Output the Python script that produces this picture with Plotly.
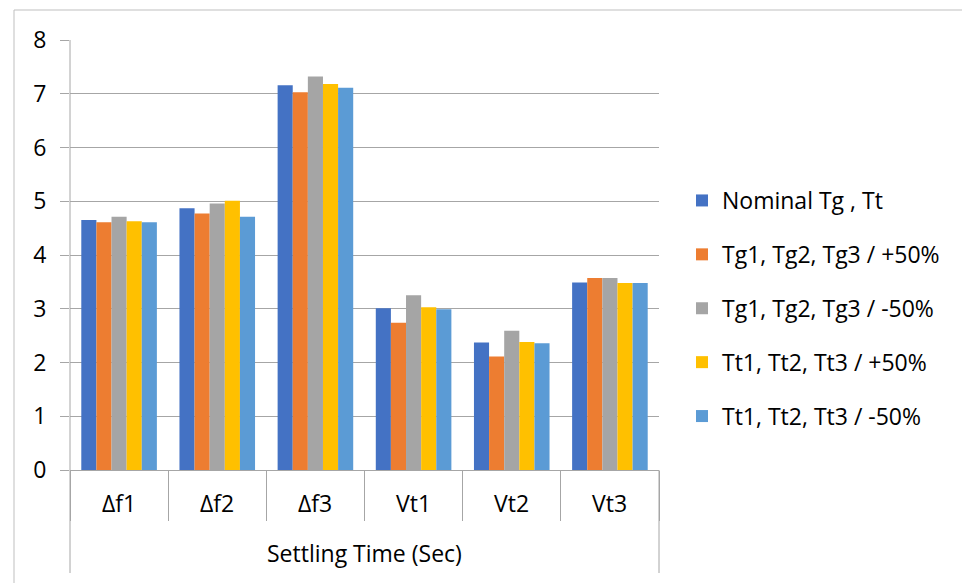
import plotly.graph_objects as go

categories = ["Δf1", "Δf2", "Δf3", "Vt1", "Vt2", "Vt3"]
series_names = ["Nominal Tg , Tt", "Tg1, Tg2, Tg3 / +50%", "Tg1, Tg2, Tg3 / -50%",
                "Tt1, Tt2, Tt3 / +50%", "Tt1, Tt2, Tt3 / -50%"]
nominal = [4.65, 4.87, 7.16, 3.01, 2.37, 3.49]
tg_plus50 = [4.61, 4.77, 7.03, 2.74, 2.11, 3.57]
tg_minus50 = [4.71, 4.96, 7.32, 3.25, 2.59, 3.57]
tt_plus50 = [4.63, 5.01, 7.18, 3.03, 2.38, 3.48]
tt_minus50 = [4.61, 4.71, 7.11, 2.99, 2.36, 3.48]
colors = ["#4472C4", "#ED7D31", "#A5A5A5", "#FFC000", "#5B9BD5"]
y_ticks = [0, 1, 2, 3, 4, 5, 6, 7, 8]
x_title = "Settling Time (Sec)"

# page body has an 8px offset; margins compensate
W, H = 970, 583
L, T = 62, 32
plot_right, plot_bottom = 651, 462
R, B = W - plot_right, H - plot_bottom
pw, ph = plot_right - L, plot_bottom - T

fig = go.Figure()
for i, (name, vals) in enumerate(zip(series_names,
                                     [nominal, tg_plus50, tg_minus50, tt_plus50, tt_minus50])):
    fig.add_trace(go.Bar(x=categories, y=vals, name=name, marker_color=colors[i],
                         marker_line_width=0, legendgroup=f"g{i}"))

font = "Open Sans, Liberation Sans, sans-serif"
fs = 23
line_col = "#A6A6A6"
fig.update_layout(
    width=W, height=H,
    margin=dict(l=L, r=R, t=T, b=B, autoexpand=False),
    paper_bgcolor="white", plot_bgcolor="white",
    barmode="group", bargap=0.23, bargroupgap=0,
    font=dict(family=font, size=fs, color="#000000"),
    legend=dict(x=(682 - 8 - L) / pw, y=1 - 139 / ph, xanchor="left", yanchor="top",
                font=dict(size=fs, family=font), traceorder="grouped",
                tracegroupgap=21, itemwidth=30, bgcolor="rgba(0,0,0,0)"),
    showlegend=True,
)
fig.update_yaxes(range=[0, 8], tickvals=y_ticks, showgrid=True, gridcolor=line_col,
                 gridwidth=1, zeroline=False, showline=False, ticks="outside",
                 ticklen=9, tickcolor=line_col, tickfont=dict(size=fs), ticklabelstandoff=9)
fig.update_xaxes(type="category", showline=True, linecolor=line_col, linewidth=1,
                 ticks="outside", tickson="boundaries", ticklen=50, tickcolor=line_col,
                 showticklabels=False)

annotations = [dict(x=c, y=-33 / ph, xref="x", yref="paper", text=c, showarrow=False,
                    xanchor="center", yanchor="middle", font=dict(size=fs))
               for c in categories]
annotations.append(dict(x=0.5, y=-83 / ph, xref="paper", yref="paper", text=x_title,
                        showarrow=False, xanchor="center", yanchor="middle",
                        font=dict(size=fs)))

shapes = [
    dict(type="line", xref="paper", yref="paper", x0=0, x1=0, y0=1, y1=-103 / ph,
         line=dict(color=line_col, width=1)),
    dict(type="line", xref="paper", yref="paper", x0=1, x1=1, y0=0, y1=-103 / ph,
         line=dict(color=line_col, width=1)),
    dict(type="rect", xref="paper", yref="paper",
         x0=(6 - L) / pw, x1=(W + 5 - L) / pw, y0=-(H + 5 - plot_bottom) / ph,
         y1=1 + (T - 2) / ph,
         line=dict(color="#BFBFBF", width=1), layer="below"),
]
fig.update_layout(shapes=shapes, annotations=annotations)
fig.write_html("out.html")
